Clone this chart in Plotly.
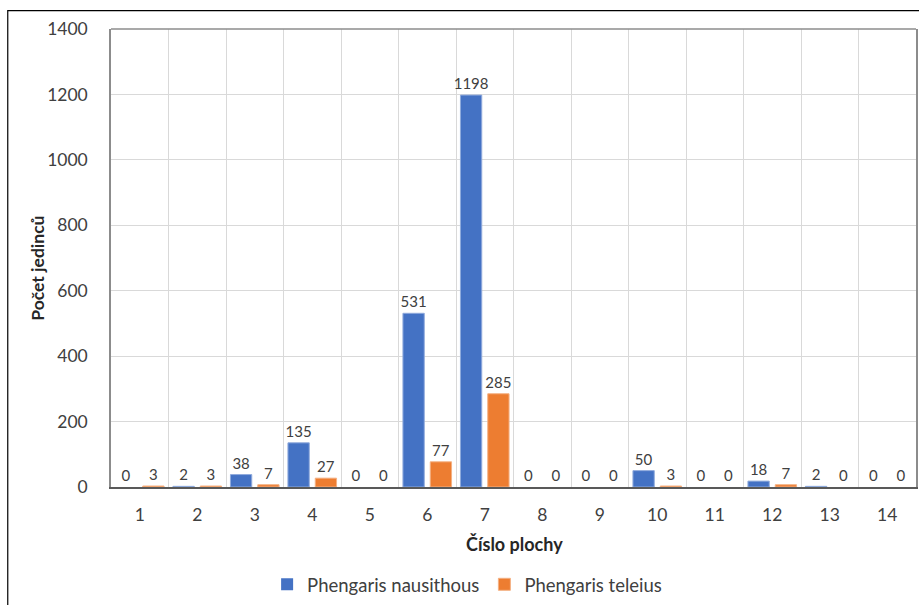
import plotly.graph_objects as go

# Survey plots and individual counts per species
plots = [str(i) for i in range(1, 15)]
nausithous = [0, 2, 38, 135, 0, 531, 1198, 0, 0, 50, 0, 18, 2, 0]
teleius = [3, 3, 7, 27, 0, 77, 285, 0, 0, 3, 0, 7, 0, 0]
y_ticks = [0, 200, 400, 600, 800, 1000, 1200, 1400]

FONT = "Lato"
W, H = 919, 605
L, R, T, B = 111, 1, 29, 117


def outline(values):
    # no outline on empty bars so they stay invisible
    return [0 if v == 0 else 1 for v in values]


fig = go.Figure()
fig.add_trace(go.Bar(
    name="Phengaris nausithous", x=plots, y=nausithous,
    marker=dict(color="#4472C4",
                line=dict(color="#8FAADC", width=outline(nausithous))),
    text=[str(v) for v in nausithous], textposition="outside",
    textfont=dict(family=FONT, size=15, color="#404040"), cliponaxis=False,
))
fig.add_trace(go.Bar(
    name="Phengaris teleius", x=plots, y=teleius,
    marker=dict(color="#ED7D31",
                line=dict(color="#F4B183", width=outline(teleius))),
    text=[str(v) for v in teleius], textposition="outside",
    textfont=dict(family=FONT, size=15, color="#404040"), cliponaxis=False,
))

pw = W - L - R
ph = H - T - B


def px_x(x):
    return (x - L) / pw


def px_y(y):
    return (H - B - y) / ph


fig.update_layout(
    width=W, height=H,
    margin=dict(l=L, r=R, t=T, b=B, pad=0),
    paper_bgcolor="white", plot_bgcolor="white",
    barmode="group", bargap=0.05, bargroupgap=0.22,
    font=dict(family=FONT, size=17, color="#404040"),
    uniformtext=dict(minsize=15, mode="show"),
    xaxis=dict(
        type="category", tickson="boundaries", ticks="",
        showgrid=True, gridcolor="#D9D9D9", gridwidth=1,
        showline=True, linecolor="#595959", linewidth=1.5,
        tickfont=dict(family=FONT, size=17.5, color="#404040"),
        ticklabelstandoff=11,
    ),
    yaxis=dict(
        range=[0, 1400], tickvals=y_ticks, ticktext=[str(v) for v in y_ticks],
        showgrid=True, gridcolor="#D9D9D9", gridwidth=1,
        showline=True, linecolor="#8C8C8C", linewidth=1.5, mirror=True,
        zeroline=False, ticks="",
        tickfont=dict(family=FONT, size=17.5, color="#404040"),
        ticklabelstandoff=18,
    ),
    legend=dict(
        orientation="h", x=px_x(468), xanchor="center",
        y=px_y(586), yanchor="middle",
        font=dict(family=FONT, size=18.5, color="#404040"),
        itemwidth=30, traceorder="normal",
    ),
    showlegend=True,
)

# Axis titles
fig.add_annotation(
    text="<b>Číslo plochy</b>", xref="paper", yref="paper",
    x=px_x(516), y=px_y(545), xanchor="center", yanchor="middle",
    showarrow=False, font=dict(family=FONT, size=18, color="#262626"),
)
fig.add_annotation(
    text="<b>Počet jedinců</b>", xref="paper", yref="paper",
    x=px_x(37), y=px_y(269), xanchor="center", yanchor="middle",
    textangle=-90, showarrow=False,
    font=dict(family=FONT, size=17.5, color="#262626"),
)

# Top edge of the plot frame
fig.add_shape(type="line", xref="paper", yref="paper", x0=0, x1=1, y0=1, y1=1,
              line=dict(color="#8C8C8C", width=1.5))
# Outer chart border
fig.add_shape(type="rect", xref="paper", yref="paper",
              x0=px_x(7.5), x1=px_x(940), y0=px_y(10.5), y1=px_y(640),
              line=dict(color="#000000", width=1.2), layer="above")

fig.write_html("out.html")
